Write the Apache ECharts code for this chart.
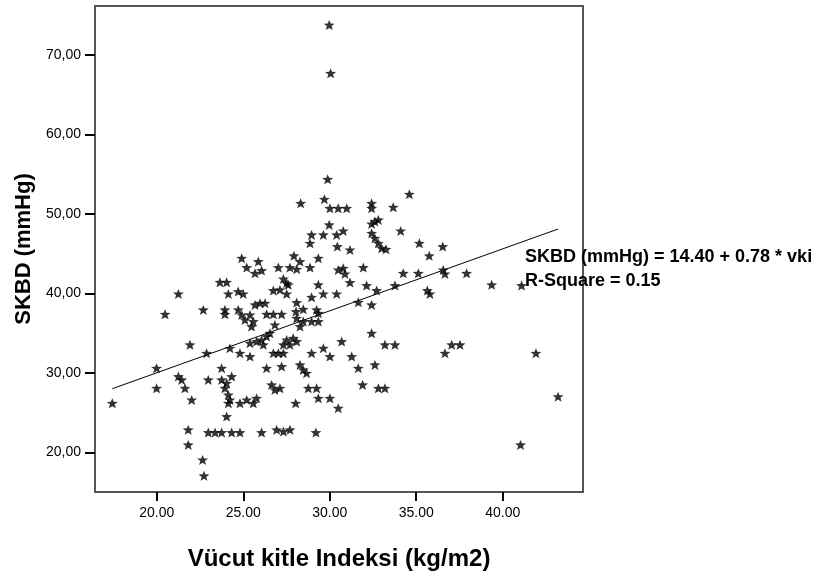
<!DOCTYPE html>
<html>
<head>
<meta charset="utf-8">
<title>SKBD - VKI</title>
<script src="https://cdn.jsdelivr.net/npm/echarts@6/dist/echarts.min.js"></script>
<style>
  html, body { margin: 0; padding: 0; background: #fff; }
  #chart { width: 822px; height: 577px; }
</style>
</head>
<body>
<div id="chart"></div>
<script>
// tick values on the axes
const xTicks = [20, 25, 30, 35, 40];
const yTicks = [20, 30, 40, 50, 60, 70];

// vki (x) and SKBD (y)
const vki = [
  29.97, 30.05, 29.88, 28.32, 29.69, 30.01, 30.49, 30.98, 32.42, 32.42,
  33.67, 34.60, 32.61, 32.81, 32.42, 29.97, 34.10, 35.18, 36.53, 35.75,
  28.95, 29.63, 28.86, 30.40, 30.78, 30.44, 31.17, 32.42, 32.61, 32.81,
  33.00, 33.25, 24.91, 25.87, 25.20, 25.68, 26.06, 27.03, 27.70, 28.09,
  28.86, 27.93, 28.28, 29.34, 30.49, 30.78, 30.88, 31.94, 34.25, 35.12,
  36.56, 36.66, 37.91, 39.36, 41.09, 23.65, 24.04, 21.25, 20.48, 22.69,
  24.14, 24.71, 25.00, 23.94, 23.94, 24.71, 24.91, 25.10, 25.39, 25.58,
  25.48, 25.68, 25.97, 26.26, 26.35, 26.74, 27.22, 27.51, 27.32, 27.60,
  26.74, 27.51, 27.12, 28.95, 29.34, 29.63, 30.40, 31.17, 32.13, 32.71,
  33.77, 35.64, 35.79, 32.42, 31.65, 28.09, 28.05, 28.47, 29.24, 29.34,
  28.09, 28.47, 28.95, 29.34, 28.28, 26.83, 26.54, 26.35, 26.06, 25.77,
  26.16, 25.39, 27.51, 27.89, 28.09, 27.32, 27.70, 21.92, 22.88, 24.23,
  24.81, 25.39, 26.74, 27.03, 27.32, 28.95, 29.63, 30.01, 30.69, 31.27,
  32.42, 33.19, 33.77, 36.66, 37.05, 37.53, 41.92, 19.99, 21.25, 21.44,
  21.63, 19.99, 22.02, 22.98, 23.75, 23.75, 24.04, 24.33, 23.94, 24.14,
  24.23, 24.14, 24.81, 25.20, 25.58, 25.77, 26.35, 27.22, 28.28, 28.47,
  28.66, 26.64, 26.83, 27.12, 28.76, 29.24, 29.34, 30.01, 30.49, 31.65,
  32.61, 31.90, 32.81, 33.19, 28.03, 17.43, 24.04, 21.82, 22.98, 23.37,
  23.75, 24.33, 24.81, 26.06, 26.93, 27.32, 27.70, 29.20, 21.82, 22.65,
  22.73, 41.03, 43.20
];
const skbd = [
  73.78, 67.70, 54.36, 51.34, 51.85, 50.71, 50.71, 50.71, 51.34, 50.71,
  50.84, 52.48, 49.04, 49.25, 48.74, 48.62, 47.86, 46.31, 45.89, 44.72,
  47.36, 47.36, 46.31, 47.36, 47.86, 45.89, 45.47, 47.57, 46.94, 46.31,
  45.68, 45.55, 44.42, 44.00, 43.25, 42.53, 42.87, 43.25, 43.25, 43.04,
  43.25, 44.72, 44.00, 44.42, 42.95, 43.16, 42.45, 43.25, 42.53, 42.53,
  42.95, 42.45, 42.53, 41.07, 40.98, 41.40, 41.40, 39.93, 37.37, 37.92,
  39.93, 40.23, 39.93, 37.92, 37.37, 37.92, 37.29, 36.66, 37.29, 36.45,
  35.82, 38.55, 38.76, 38.76, 37.37, 37.37, 37.37, 41.28, 41.82, 41.07,
  40.35, 39.93, 40.44, 39.51, 41.07, 39.93, 39.93, 41.36, 40.98, 40.35,
  40.98, 40.35, 39.93, 38.55, 38.88, 38.84, 37.71, 38.00, 37.92, 37.50,
  36.87, 36.45, 36.45, 36.45, 35.82, 36.03, 34.98, 34.56, 34.14, 33.93,
  33.52, 33.73, 34.14, 34.35, 33.93, 33.52, 33.52, 33.52, 32.47, 33.10,
  32.47, 32.05, 32.47, 32.47, 32.47, 32.47, 33.10, 32.05, 33.93, 32.05,
  34.98, 33.52, 33.52, 32.47, 33.52, 33.52, 32.47, 30.58, 29.53, 29.11,
  28.06, 28.06, 26.59, 29.11, 30.58, 29.11, 28.69, 29.53, 28.06, 27.22,
  26.59, 26.17, 26.17, 26.59, 26.17, 26.80, 30.58, 30.79, 31.00, 30.37,
  29.95, 28.48, 27.85, 28.06, 28.06, 28.06, 26.80, 26.80, 25.55, 30.58,
  31.00, 28.48, 28.06, 28.06, 26.17, 26.17, 24.50, 22.82, 22.48, 22.48,
  22.48, 22.48, 22.48, 22.48, 22.82, 22.61, 22.82, 22.48, 20.93, 19.04,
  17.03, 20.93, 27.00
];

// ends of the fitted line
const fitX = [17.43, 43.20];
const fitY = [28.00, 48.10];

// fat five-point star, like the SPSS marker
const starPath = 'path://M50,0 L63,33 L100,35 L71,58 L82,95 L50,75 L18,95 L29,58 L0,35 L37,33 Z';
const fontFamily = 'Arial, "Liberation Sans", sans-serif';

let chart = echarts.init(document.getElementById('chart'));

chart.setOption({
  animation: false,
  backgroundColor: '#fff',
  grid: {
    left: 95, top: 6, width: 488, height: 486,
    show: true,
    borderColor: '#555',
    borderWidth: 2
  },
  xAxis: {
    type: 'value',
    min: 16.43,
    max: 44.64,
    name: 'Vücut kitle Indeksi (kg/m2)',
    nameLocation: 'middle',
    nameGap: 55,
    nameTextStyle: { fontFamily: fontFamily, fontSize: 24, fontWeight: 'bold', color: '#000' },
    axisLine: { show: false },
    splitLine: { show: false },
    axisTick: {
      show: true,
      customValues: xTicks,
      length: 9,
      lineStyle: { color: '#000', width: 2 }
    },
    axisLabel: {
      customValues: xTicks,
      margin: 14,
      fontFamily: fontFamily,
      fontSize: 14,
      color: '#000',
      formatter: v => v.toFixed(2)
    }
  },
  yAxis: {
    type: 'value',
    min: 15.0,
    max: 76.17,
    name: 'SKBD (mmHg)',
    nameLocation: 'middle',
    nameGap: 58,
    nameTextStyle: { fontFamily: fontFamily, fontSize: 22, fontWeight: 'bold', color: '#000' },
    axisLine: { show: false },
    splitLine: { show: false },
    axisTick: {
      show: true,
      customValues: yTicks,
      length: 10,
      lineStyle: { color: '#000', width: 2 }
    },
    axisLabel: {
      customValues: yTicks,
      margin: 14,
      fontFamily: fontFamily,
      fontSize: 14,
      color: '#000',
      formatter: v => v.toFixed(2).replace('.', ',')
    }
  },
  graphic: [
    {
      type: 'text', left: 525, top: 248,
      style: { text: 'SKBD (mmHg) = 14.40 + 0.78 * vki', font: 'bold 18px ' + fontFamily, fill: '#000' }
    },
    {
      type: 'text', left: 525, top: 272,
      style: { text: 'R-Square = 0.15', font: 'bold 18px ' + fontFamily, fill: '#000' }
    }
  ],
  series: [
    {
      type: 'scatter',
      symbol: starPath,
      symbolSize: [11, 10],
      itemStyle: { color: '#000' },
      data: vki.map((x, i) => [x, skbd[i]])
    },
    {
      type: 'line',
      symbol: 'none',
      lineStyle: { color: '#000', width: 1 },
      data: fitX.map((x, i) => [x, fitY[i]])
    }
  ]
});
</script>
</body>
</html>
